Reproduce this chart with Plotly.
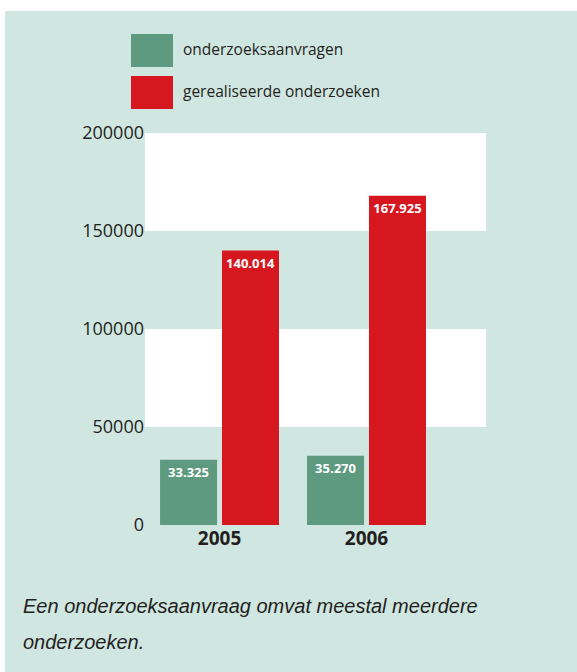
import plotly.graph_objects as go

# data
years = ["2005", "2006"]
series_names = ["onderzoeksaanvragen", "gerealiseerde onderzoeken"]
aanvragen = [33325, 35270]
gerealiseerd = [140014, 167925]
y_ticks = [0, 50000, 100000, 150000, 200000]
caption_lines = ["Een onderzoeksaanvraag omvat meestal meerdere", "onderzoeken."]

BG = "#d0e6e0"
GREEN = "#5e9a80"
RED = "#d7171f"
TEXT = "#231f20"
FONT = "Open Sans"


def nl_fmt(v):
    # dutch thousands separator
    return f"{v:,}".replace(",", ".")


fig = go.Figure()
for name, vals, col in [(series_names[0], aanvragen, GREEN),
                        (series_names[1], gerealiseerd, RED)]:
    fig.add_trace(go.Bar(
        x=years, y=vals, name=name, marker_color=col, marker_line_width=0,
        text=[nl_fmt(v) for v in vals], textposition="inside",
        insidetextanchor="end",
        textfont=dict(family=FONT, size=13, color="white", weight="bold"),
        showlegend=False,
    ))

# plot area geometry (px) used to place things outside the axes
L, R, T, B = 145, 91, 133, 147
W, H = 577, 672
pw, ph = W - L - R, H - T - B


def px_x(p):
    return (p - L) / pw


def px_y(p):
    return 1 + (T - p) / ph


shapes = []
# white bands behind the bars
for lo, hi in [(50000, 100000), (150000, 200000)]:
    shapes.append(dict(type="rect", xref="paper", yref="y", x0=0, x1=1,
                       y0=lo, y1=hi, fillcolor="white", line_width=0,
                       layer="below"))
# white page margins around the green panel
shapes.append(dict(type="rect", xref="paper", yref="paper", x0=px_x(0),
                   x1=px_x(W), y0=px_y(11), y1=px_y(0), fillcolor="white",
                   line_width=0, layer="below"))
shapes.append(dict(type="rect", xref="paper", yref="paper", x0=px_x(0),
                   x1=px_x(5), y0=px_y(H), y1=px_y(0), fillcolor="white",
                   line_width=0, layer="below"))

annotations = []
# custom legend with large swatches
for i, (name, col) in enumerate(zip(series_names, [GREEN, RED])):
    top = 34 + i * 42
    shapes.append(dict(type="rect", xref="paper", yref="paper",
                       x0=px_x(131), x1=px_x(173), y0=px_y(top + 33),
                       y1=px_y(top), fillcolor=col, line_width=0))
    annotations.append(dict(text=name, xref="paper", yref="paper",
                            x=px_x(181), y=px_y(top + 15), xanchor="left",
                            yanchor="middle", showarrow=False,
                            font=dict(family=FONT, size=15.5, color=TEXT)))

for i, line in enumerate(caption_lines):
    annotations.append(dict(text=line, xref="paper", yref="paper",
                            x=px_x(21), y=px_y(606 + i * 36), xanchor="left",
                            yanchor="middle", align="left", showarrow=False,
                            font=dict(family="Liberation Sans", size=20,
                                      color=TEXT, style="italic")))

fig.update_layout(
    width=W, height=H,
    margin=dict(l=L, r=R, t=T, b=B),
    paper_bgcolor=BG, plot_bgcolor=BG,
    barmode="group", bargap=0.157, bargroupgap=0.08,
    shapes=shapes, annotations=annotations,
    font=dict(family=FONT, color=TEXT),
)
fig.update_xaxes(type="category", range=[-0.507, 1.813], showgrid=False,
                 showline=False, zeroline=False, ticks="",
                 tickfont=dict(size=19, weight="bold", color=TEXT))
fig.update_yaxes(range=[0, 200000], tickvals=y_ticks,
                 ticktext=[str(v) for v in y_ticks], showgrid=False,
                 zeroline=False, showline=False, ticks="",
                 tickfont=dict(size=18, color=TEXT))

# drop the default body margin so the figure fills the window
fig.write_html("out.html", config={"displayModeBar": False},
               post_script="document.body.style.margin='0';")
